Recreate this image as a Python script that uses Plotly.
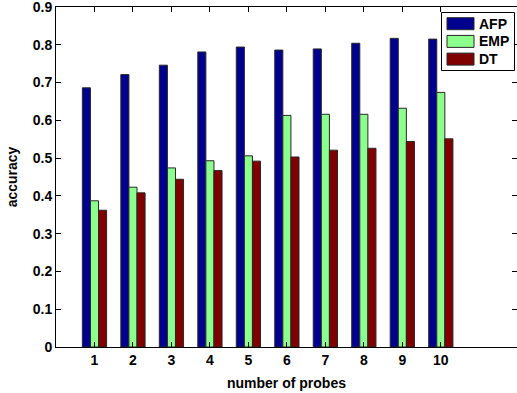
import plotly.graph_objects as go

probes = [1, 2, 3, 4, 5, 6, 7, 8, 9, 10]
afp = [0.686, 0.721, 0.746, 0.781, 0.794, 0.786, 0.789, 0.804, 0.817, 0.815]
emp = [0.387, 0.423, 0.474, 0.493, 0.506, 0.613, 0.616, 0.616, 0.632, 0.674]
dt = [0.362, 0.408, 0.444, 0.467, 0.492, 0.503, 0.521, 0.526, 0.544, 0.551]
series_names = ["AFP", "EMP", "DT"]
colors = ["rgb(0,0,143)", "rgb(140,255,140)", "rgb(128,0,0)"]
y_ticks = [0, 0.1, 0.2, 0.3, 0.4, 0.5, 0.6, 0.7, 0.8, 0.9]

FONT = "Liberation Sans, Arial, sans-serif"
W, H = 517, 393
ML, MR, MT, MB = 56, 0, 7, 46
PW, PH = W - ML - MR, H - MT - MB


def px_x(p):  # pixel -> plot-domain paper fraction (x)
    return (p - ML) / PW


def px_y(p):  # pixel -> plot-domain paper fraction (y)
    return (H - MB - p) / PH


fig = go.Figure()
for name, vals, col in zip(series_names, [afp, emp, dt], colors):
    fig.add_trace(go.Bar(
        x=probes, y=vals, name=name, showlegend=False,
        marker=dict(color=col, line=dict(color="rgb(40,40,40)", width=1)),
    ))

# MATLAB-style legend box with wide swatches
shapes = [dict(type="rect", xref="paper", yref="paper",
               x0=px_x(441.5), x1=px_x(514.5), y0=px_y(70.5), y1=px_y(12.5),
               line=dict(color="black", width=1), fillcolor="white", layer="above")]
annotations = []
row_h = 17.7
for i, (name, col) in enumerate(zip(series_names, colors)):
    cy = 23.7 + i * row_h
    shapes.append(dict(type="rect", xref="paper", yref="paper",
                       x0=px_x(447), x1=px_x(474), y0=px_y(cy + 6), y1=px_y(cy - 6),
                       line=dict(color="rgb(40,40,40)", width=1), fillcolor=col,
                       layer="above"))
    annotations.append(dict(xref="paper", yref="paper", x=px_x(477), y=px_y(cy),
                            xanchor="left", yanchor="middle", showarrow=False,
                            text=f"<b>{name}</b>",
                            font=dict(family=FONT, size=14, color="black")))

fig.update_layout(
    width=W, height=H, autosize=False,
    margin=dict(l=ML, r=MR, t=MT, b=MB, autoexpand=False),
    paper_bgcolor="white", plot_bgcolor="white",
    barmode="group", bargap=0.37, bargroupgap=0,
    font=dict(family=FONT, size=14, color="black"),
    showlegend=False,
    shapes=shapes, annotations=annotations,
    xaxis=dict(
        range=[0, 11.98], tickmode="array", tickvals=probes,
        ticktext=[f"<b>{p}</b>" for p in probes],
        ticks="inside", ticklen=5, tickcolor="black",
        showline=True, linecolor="black", linewidth=1, mirror="ticks",
        showgrid=False, zeroline=False, automargin=False,
        title=dict(text="<b>number of probes</b>", font=dict(size=14), standoff=11),
    ),
    yaxis=dict(
        range=[0, 0.9], tickmode="array", tickvals=y_ticks,
        ticktext=[f"<b>{v:g}</b>" for v in y_ticks],
        ticks="inside", ticklen=5, tickcolor="black",
        showline=True, linecolor="black", linewidth=1, mirror="ticks",
        showgrid=False, zeroline=False, automargin=False,
        ticklabeloverflow="allow",
        title=dict(text="<b>accuracy</b>", font=dict(size=14), standoff=11),
    ),
)

fig.write_html("out.html", config={"displayModeBar": False},
               post_script="document.body.style.margin='0';")
